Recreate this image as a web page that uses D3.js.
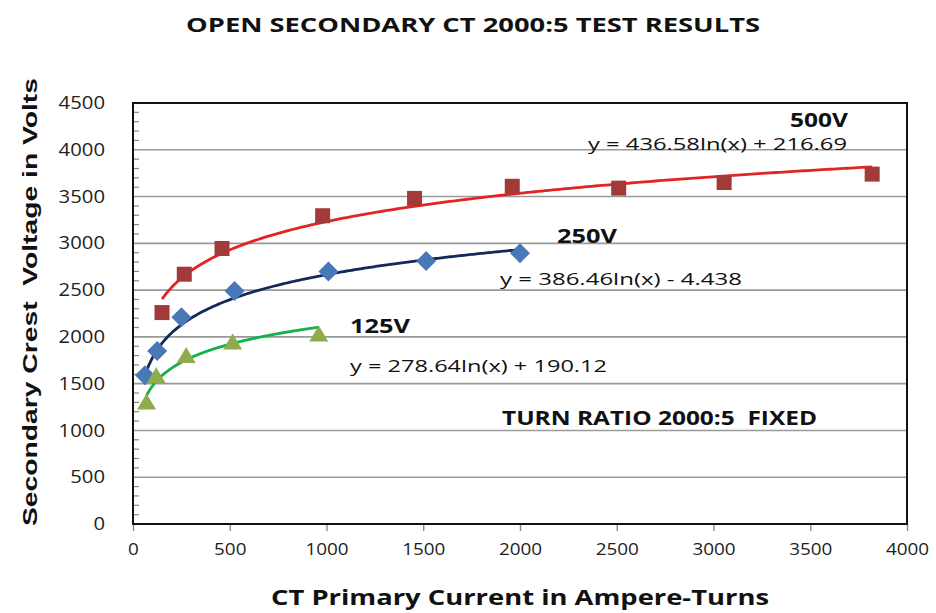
<!DOCTYPE html>
<html><head><meta charset="utf-8">
<script src="https://cdn.jsdelivr.net/npm/d3@7"></script>
<style>body{margin:0;background:#fff}svg{display:block}text{white-space:pre}</style>
</head><body>
<svg id="c" width="936" height="613"></svg>
<script>
// ---- data ----
const series500x = [150, 265, 460, 980, 1455, 1960, 2510, 3055, 3820];
const series500y = [2260, 2670, 2945, 3295, 3480, 3610, 3590, 3650, 3740];
const series250x = [62, 125, 250, 525, 1010, 1515, 2000];
const series250y = [1590, 1850, 2210, 2490, 2700, 2810, 2895];
const series125x = [70, 120, 275, 515, 960];
const series125y = [1300, 1580, 1795, 1940, 2025];
const seriesNames = ["500V", "250V", "125V"];
const trendA = [436.58, 386.46, 278.64];
const trendB = [216.69, -4.438, 190.12];
const trendLabels = ["y = 436.58ln(x) + 216.69", "y = 386.46ln(x) - 4.438", "y = 278.64ln(x) + 190.12"];
const xTicks = [0, 500, 1000, 1500, 2000, 2500, 3000, 3500, 4000];
const yTicks = [0, 500, 1000, 1500, 2000, 2500, 3000, 3500, 4000, 4500];
const titleText = "OPEN SECONDARY CT 2000:5 TEST RESULTS";
const xTitle = "CT Primary Current in Ampere-Turns";
const yTitle = "Secondary Crest  Voltage in Volts";
const noteText = "TURN RATIO 2000:5  FIXED";

// ---- layout ----
const L = 133, R = 907, T = 103, B = 524;
const svg = d3.select("#c");
const x = d3.scaleLinear().domain([0, 4000]).range([L, R]);
const y = d3.scaleLinear().domain([0, 4500]).range([B, T]);
const font = "'Open Sans', 'Liberation Sans', sans-serif";

// gridlines
svg.append("g").selectAll("line").data(yTicks.slice(1)).join("line")
  .attr("x1", L).attr("x2", R).attr("y1", d => y(d)).attr("y2", d => y(d))
  .attr("stroke", "#9a9a9a").attr("stroke-width", 1.6);

// minor y ticks (inside)
const minor = d3.range(100, 4500, 100).filter(v => v % 500 !== 0);
svg.append("g").selectAll("line").data(minor).join("line")
  .attr("x1", L).attr("x2", L + 6).attr("y1", d => y(d)).attr("y2", d => y(d))
  .attr("stroke", "#8a8a8a").attr("stroke-width", 1.2);

// x axis
const xa = svg.append("g").attr("transform", `translate(0,${B})`)
  .call(d3.axisBottom(x).tickValues(xTicks).tickFormat(d3.format("d")).tickSize(7).tickPadding(12).tickSizeOuter(0));
xa.select(".domain").remove();
xa.selectAll(".tick line").attr("stroke", "#8a8a8a").attr("stroke-width", 1.4);
xa.selectAll("text").attr("font-family", font).attr("font-size", 17).attr("fill", "#222")
  .attr("textLength", d => String(d).length * 10.8).attr("lengthAdjust", "spacingAndGlyphs");

// y axis
const ya = svg.append("g").attr("transform", `translate(${L},0)`)
  .call(d3.axisLeft(y).tickValues(yTicks).tickFormat(d3.format("d")).tickSize(0).tickPadding(28));
ya.select(".domain").remove();
ya.selectAll("text").attr("font-family", font).attr("font-size", 17.5).attr("fill", "#222")
  .attr("textLength", d => String(d).length * 11.6).attr("lengthAdjust", "spacingAndGlyphs");

// plot frame
svg.append("rect").attr("x", L).attr("y", T).attr("width", R - L).attr("height", B - T)
  .attr("fill", "none").attr("stroke", "#111").attr("stroke-width", 2);

// trendlines
const trendColors = ["#e32424", "#14285a", "#14b04a"];
const xs = [series500x, series250x, series125x];
const line = d3.line().x(d => x(d[0])).y(d => y(d[1]));
for (let i = 0; i < 3; i++) {
  const lo = d3.min(xs[i]), hi = d3.max(xs[i]);
  const pts = d3.range(0, 201).map(k => {
    const xv = lo + (hi - lo) * k / 200;
    return [xv, trendA[i] * Math.log(xv) + trendB[i]];
  });
  svg.append("path").attr("d", line(pts)).attr("fill", "none")
    .attr("stroke", trendColors[i]).attr("stroke-width", 2.8);
}

// markers
const pts500 = series500x.map((v, i) => [v, series500y[i]]);
const pts250 = series250x.map((v, i) => [v, series250y[i]]);
const pts125 = series125x.map((v, i) => [v, series125y[i]]);
svg.append("g").selectAll("rect").data(pts500).join("rect")
  .attr("x", d => x(d[0]) - 7.5).attr("y", d => y(d[1]) - 7.5)
  .attr("width", 15).attr("height", 15).attr("fill", "#a33a3a");
svg.append("g").selectAll("path").data(pts250).join("path")
  .attr("transform", d => `translate(${x(d[0])},${y(d[1])})`)
  .attr("d", "M0,-10L10,0L0,10L-10,0Z").attr("fill", "#4878b6");
svg.append("g").selectAll("path").data(pts125).join("path")
  .attr("transform", d => `translate(${x(d[0])},${y(d[1])})`)
  .attr("d", "M0,-9L9.5,7L-9.5,7Z").attr("fill", "#8fac4c");

// annotations
function txt(s, xp, yp, size, weight, anchor, len) {
  const t = svg.append("text").attr("x", xp).attr("y", yp).text(s)
    .attr("font-family", font).attr("font-size", size).attr("font-weight", weight)
    .attr("fill", "#111").attr("text-anchor", anchor || "start");
  if (len) t.attr("textLength", len).attr("lengthAdjust", "spacingAndGlyphs");
  return t;
}
txt(titleText, 473, 32, 20, "bold", "middle", 574);
txt(seriesNames[0], 790, 127, 20, "bold", "start", 58);
txt(trendLabels[0], 588, 150, 17, "normal", "start", 259);
txt(seriesNames[1], 557, 243, 20, "bold", "start", 60);
txt(trendLabels[1], 500, 285, 17, "normal", "start", 242);
txt(seriesNames[2], 350, 333, 20, "bold", "start", 60);
txt(trendLabels[2], 350, 372, 17, "normal", "start", 257);
txt(noteText, 502, 425, 19, "bold", "start", 315);
txt(xTitle, 520, 605, 21, "bold", "middle", 498);
svg.append("text").attr("transform", "translate(37,302) rotate(-90)")
  .attr("text-anchor", "middle").text(yTitle)
  .attr("font-family", "'Liberation Sans', Arial, sans-serif").attr("font-size", 21)
  .attr("font-weight", "bold").attr("fill", "#111")
  .attr("textLength", 448).attr("lengthAdjust", "spacingAndGlyphs");
</script>
</body></html>
